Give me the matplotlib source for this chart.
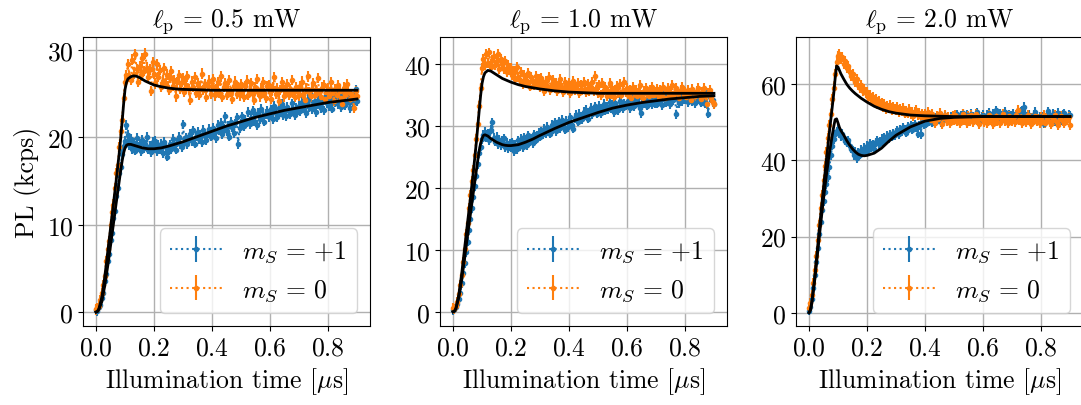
import numpy as np
import matplotlib
matplotlib.use("Agg")
import matplotlib.pyplot as plt

# =========================================================
# DATA
# =========================================================
powers = [0.5, 1.0, 2.0]

# acquisition grid, 5 ns bins
t = np.round(np.arange(0, 0.9001, 0.005), 3)

# --- 0.5 mW ---
p05_ms0 = [
    0.3, 0.4, 0.7, 1.4, 2.2, 3.1, 4.1, 5.8, 7.2, 8.1, 10.0, 11.4, 12.3, 14.2, 15.9, 16.8, 18.9, 20.7, 22.0, 24.5,
    26.3, 27.1, 28.4, 27.0, 26.6, 28.9, 27.3, 29.5, 27.8, 26.4, 28.2, 27.1, 29.1, 27.6, 29.6, 28.0, 26.9, 27.8, 25.3, 28.6,
    27.3, 26.2, 28.4, 26.9, 27.7, 25.8, 26.5, 27.9, 26.1, 27.2, 25.4, 26.8, 27.6, 25.9, 26.6, 24.7, 26.3, 27.1, 25.6, 26.4,
    26.8, 25.2, 26.0, 27.0, 25.5, 24.3, 26.4, 25.8, 26.9, 25.1, 26.2, 24.9, 25.7, 27.3, 25.4, 26.1, 24.6, 25.9, 26.5, 25.0,
    25.9, 26.7, 24.8, 25.5, 26.3, 25.1, 27.0, 24.6, 25.8, 26.2, 24.9, 25.4, 26.6, 25.2, 24.4, 25.9, 26.4, 25.0, 25.7, 24.8,
    26.1, 25.3, 24.6, 25.9, 26.5, 24.9, 25.4, 26.2, 25.0, 24.3, 25.8, 26.7, 25.2, 24.7, 25.6, 26.3, 25.1, 24.5, 25.9, 26.0,
    25.2, 24.4, 25.7, 26.9, 25.0, 25.6, 24.2, 25.4, 26.3, 25.8, 24.7, 25.3, 26.1, 24.9, 25.5, 26.6, 25.1, 24.6, 25.8, 25.2,
    24.8, 25.9, 26.4, 25.0, 24.3, 25.6, 27.0, 25.2, 24.7, 25.5, 26.2, 24.9, 25.4, 26.8, 25.1, 24.6, 25.7, 26.0, 24.4, 25.3,
    25.6, 24.7, 26.3, 25.1, 24.2, 25.5, 24.8, 26.0, 25.3, 24.5, 23.8, 25.7, 24.9, 26.1, 25.2, 24.4, 25.0, 24.6, 23.4, 25.3,
    24.7,
]
p05_ms1 = [
    0.2, 0.1, 0.6, 0.8, 1.6, 2.2, 3.5, 4.3, 5.8, 6.6, 8.2, 9.1, 10.8, 11.6, 13.3, 14.2, 15.9, 16.6, 18.1, 19.0,
    19.6, 21.4, 20.3, 19.1, 19.8, 18.7, 19.4, 18.5, 19.9, 18.9, 19.3, 18.4, 19.7, 18.8, 19.2, 20.1, 18.6, 19.0, 18.3, 19.5,
    18.8, 19.6, 18.4, 19.1, 18.6, 19.3, 18.2, 19.5, 18.9, 17.8, 18.5, 19.2, 18.7, 19.8, 19.0, 18.6, 19.4, 20.1, 19.2, 18.9,
    21.5, 19.4, 20.0, 19.2, 19.9, 20.4, 19.6, 20.8, 19.3, 20.1, 20.6, 19.8, 20.3, 19.5, 20.9, 20.2, 19.7, 20.5, 21.0, 20.1,
    20.3, 21.1, 20.6, 19.9, 21.4, 20.8, 21.7, 20.4, 21.0, 22.4, 20.7, 21.3, 20.1, 21.8, 21.2, 20.5, 21.6, 22.3, 19.2, 21.1,
    21.6, 22.4, 21.3, 22.0, 21.7, 22.9, 21.5, 22.2, 23.1, 21.9, 22.6, 21.4, 22.8, 22.1, 23.3, 22.5, 21.8, 22.7, 23.0, 22.3,
    22.5, 23.2, 22.1, 23.6, 22.8, 22.3, 23.4, 22.9, 23.8, 22.6, 23.1, 22.4, 23.5, 23.0, 22.7, 23.9, 23.2, 22.6, 23.4, 23.1,
    23.6, 23.0, 24.1, 23.3, 23.9, 22.8, 24.4, 23.5, 24.8, 23.2, 23.7, 24.2, 22.9, 23.8, 24.5, 23.4, 24.0, 23.1, 24.6, 23.9,
    24.2, 23.6, 24.7, 23.3, 24.5, 24.0, 25.1, 23.8, 24.4, 23.5, 24.9, 24.1, 23.7, 25.2, 24.3, 23.4, 24.8, 23.9, 24.6, 25.5,
    24.2,
]

# --- 1.0 mW ---
p10_ms0 = [
    0.6, 0.5, 0.9, 1.6, 2.9, 4.3, 6.0, 8.1, 10.2, 12.6, 14.3, 16.8, 18.9, 21.1, 22.9, 25.3, 27.9, 30.4, 33.2, 36.1,
    39.4, 40.8, 39.9, 41.6, 40.2, 41.9, 39.6, 40.7, 41.3, 39.8, 40.5, 41.7, 39.3, 40.9, 40.1, 39.2, 40.6, 38.8, 39.9, 39.1,
    39.4, 38.2, 38.9, 37.6, 39.6, 38.0, 37.4, 38.7, 36.8, 38.3, 37.5, 37.0, 38.6, 36.4, 37.9, 37.2, 36.7, 38.1, 36.9, 37.6,
    36.3, 37.8, 36.9, 35.7, 37.3, 36.5, 37.9, 35.9, 36.8, 37.4, 36.1, 37.0, 35.6, 36.7, 37.6, 36.2, 35.5, 37.1, 36.4, 35.8,
    36.9, 35.4, 36.5, 37.3, 35.8, 36.2, 37.0, 35.3, 36.7, 35.9, 37.2, 36.0, 35.5, 36.8, 35.7, 36.4, 37.1, 35.6, 38.1, 36.3,
    35.4, 36.6, 35.1, 37.0, 35.8, 36.3, 34.9, 35.6, 36.9, 35.2, 36.1, 34.7, 35.9, 36.5, 35.3, 36.8, 35.0, 35.7, 37.2, 35.5,
    36.2, 35.0, 35.8, 34.6, 36.4, 35.3, 35.9, 34.8, 35.5, 36.6, 35.1, 34.5, 35.7, 36.1, 35.2, 34.9, 35.8, 36.3, 35.0, 35.6,
    35.3, 36.0, 34.7, 35.9, 35.1, 36.4, 34.5, 35.6, 36.2, 35.0, 35.4, 36.7, 34.8, 35.5, 36.1, 35.2, 34.6, 35.8, 36.3, 35.1,
    35.6, 34.7, 35.9, 35.2, 34.3, 36.0, 35.4, 34.8, 35.7, 36.2, 35.0, 34.4, 35.5, 36.1, 34.9, 33.6, 35.3, 35.8, 34.6, 33.9,
    33.5,
]
p10_ms1 = [
    0.3, 0.4, 0.7, 1.2, 2.0, 3.1, 4.6, 6.2, 7.9, 9.6, 11.3, 13.2, 15.0, 16.7, 18.6, 20.3, 22.0, 23.9, 25.6, 26.7,
    27.9, 28.6, 29.1, 28.2, 28.8, 27.7, 29.4, 30.6, 28.1, 27.5, 28.3, 27.1, 27.8, 26.9, 27.6, 28.0, 26.6, 27.3, 26.4, 27.2,
    26.5, 27.4, 25.9, 27.0, 26.3, 27.7, 26.8, 27.9, 26.6, 28.2, 27.3, 26.9, 28.5, 27.6, 28.0, 27.2, 28.7, 27.8, 28.4, 28.9,
    28.3, 29.1, 28.7, 29.6, 28.9, 29.9, 29.3, 28.8, 30.2, 29.5, 30.6, 29.2, 30.0, 30.8, 29.7, 31.0, 30.3, 29.4, 30.9, 29.8,
    30.9, 31.4, 30.2, 29.6, 31.3, 31.8, 30.7, 32.0, 31.5, 31.1, 32.3, 31.7, 32.6, 31.2, 32.1, 33.0, 31.9, 32.4, 33.2, 32.0,
    32.6, 33.3, 32.1, 32.9, 33.6, 32.5, 33.1, 32.7, 33.9, 32.8, 33.4, 32.3, 33.7, 33.0, 32.6, 34.0, 33.2, 32.9, 33.6, 33.3,
    33.5, 34.1, 32.9, 33.8, 34.3, 33.2, 33.7, 34.5, 33.4, 33.0, 32.1, 34.2, 33.6, 34.0, 33.3, 34.6, 33.9, 33.5, 34.3, 33.7,
    34.2, 33.6, 34.7, 34.0, 33.4, 35.0, 34.3, 33.8, 34.9, 34.1, 33.5, 34.6, 34.2, 35.2, 31.9, 34.4, 33.7, 34.8, 34.0, 35.3,
    34.3, 35.1, 33.9, 34.6, 35.4, 34.0, 34.8, 33.7, 35.2, 34.4, 34.9, 33.8, 35.0, 34.5, 33.6, 35.3, 32.0, 34.7, 35.1, 34.2,
    33.6,
]

# --- 2.0 mW ---
p20_ms0 = [
    1.2, 2.5, 4.6, 7.8, 11.3, 15.0, 19.2, 23.1, 27.4, 30.8, 34.9, 38.6, 42.3, 45.9, 49.4, 52.3, 56.1, 59.0, 62.8, 65.9,
    67.3, 68.0, 66.6, 67.1, 65.4, 66.0, 64.3, 64.9, 63.1, 62.2, 62.8, 61.3, 60.6, 61.4, 59.7, 59.1, 59.8, 58.2, 58.7, 57.6,
    57.9, 56.6, 57.2, 56.0, 56.7, 55.3, 56.1, 54.8, 55.6, 54.5, 55.2, 54.0, 54.7, 53.5, 54.3, 53.8, 54.6, 53.2, 53.9, 53.4,
    53.1, 54.0, 52.6, 53.5, 52.9, 53.7, 52.3, 53.0, 52.5, 53.4, 52.1, 52.8, 51.6, 52.7, 53.2, 51.9, 52.4, 51.3, 52.2, 51.7,
    52.3, 51.0, 52.8, 51.5, 50.6, 52.1, 51.2, 49.8, 51.7, 50.9, 52.4, 51.3, 49.6, 51.0, 52.0, 50.4, 51.5, 49.9, 50.8, 51.6,
    50.7, 51.9, 50.2, 51.4, 49.7, 50.9, 52.2, 50.5, 51.1, 49.9, 51.6, 50.3, 51.8, 50.0, 51.2, 52.3, 50.6, 49.5, 51.0, 50.8,
    51.5, 50.1, 51.0, 49.8, 52.0, 50.6, 51.3, 49.6, 50.9, 51.7, 50.2, 51.4, 49.9, 50.7, 52.1, 50.4, 51.1, 49.7, 51.6, 50.8,
    50.3, 51.2, 50.0, 51.8, 53.3, 50.7, 51.4, 49.9, 50.8, 51.5, 50.1, 51.9, 50.5, 49.6, 51.1, 50.6, 51.7, 50.2, 51.0, 49.8,
    51.3, 50.4, 51.9, 49.7, 50.8, 51.5, 50.1, 49.5, 51.2, 50.6, 51.8, 50.0, 49.4, 50.9, 51.6, 50.3, 49.8, 51.1, 50.5, 51.4,
    49.3,
]
p20_ms1 = [
    0.5, 1.6, 3.5, 6.6, 9.8, 13.3, 17.0, 20.6, 23.8, 26.9, 29.3, 31.8, 33.7, 35.6, 38.2, 41.3, 43.9, 45.6, 46.8, 47.6,
    48.3, 47.1, 46.4, 47.0, 45.8, 45.2, 44.6, 45.3, 43.8, 43.1, 42.5, 41.3, 42.2, 40.6, 42.0, 41.5, 42.8, 42.1, 43.3, 42.6,
    43.9, 42.7, 44.5, 43.4, 44.1, 43.0, 44.8, 45.3, 44.2, 45.0, 45.7, 44.6, 46.1, 45.4, 46.5, 45.8, 46.9, 46.2, 47.1, 46.6,
    47.4, 47.9, 46.8, 48.2, 47.6, 48.7, 48.0, 47.3, 48.9, 48.4, 49.2, 48.1, 48.8, 49.5, 48.6, 47.0, 49.1, 46.8, 50.0, 49.4,
    50.2, 49.6, 50.8, 50.1, 51.0, 49.9, 50.6, 51.3, 50.4, 51.6, 50.7, 50.0, 51.4, 50.9, 51.8, 50.5, 51.1, 50.3, 51.5, 51.0,
    51.4, 50.8, 52.1, 51.0, 50.5, 51.7, 52.4, 51.2, 50.6, 51.9, 51.3, 50.9, 52.2, 51.5, 50.7, 51.8, 52.6, 51.1, 50.4, 51.6,
    52.0, 51.2, 50.7, 51.9, 52.5, 51.4, 50.9, 52.2, 51.6, 53.1, 51.3, 50.8, 52.4, 51.7, 51.0, 52.8, 51.5, 50.6, 52.1, 51.8,
    51.4, 52.2, 50.9, 51.7, 52.6, 51.1, 52.9, 53.0, 54.0, 52.3, 51.6, 50.8, 52.0, 51.3, 50.5, 51.9, 52.7, 51.0, 50.4, 51.5,
    50.2, 51.6, 49.6, 50.9, 51.8, 52.9, 51.2, 50.5, 52.3, 51.0, 50.3, 51.7, 52.5, 51.1, 50.6, 51.9, 52.4, 51.3, 50.8, 52.0,
    51.8,
]

# typical error bar (kcps) per power
err_ms0 = [0.6, 0.8, 1.3]
err_ms1 = [0.55, 0.75, 1.2]

# fitted model curves
fit_t = [0, 0.005, 0.01, 0.02, 0.03, 0.04, 0.05, 0.06, 0.07, 0.08,
         0.085, 0.09, 0.095, 0.10, 0.105, 0.11, 0.12, 0.13, 0.14, 0.15,
         0.16, 0.17, 0.18, 0.19, 0.2, 0.225, 0.25, 0.275, 0.3, 0.35,
         0.4, 0.45, 0.5, 0.55, 0.6, 0.65, 0.7, 0.75, 0.8, 0.85, 0.9]

fit05_ms0 = [0, 0.1, 0.4, 1.7, 4.0, 6.8, 9.6, 12.4, 15.2, 18.2,
             19.9, 21.8, 23.8, 25.5, 26.3, 26.7, 26.95, 27.05, 27.0, 26.85,
             26.65, 26.45, 26.3, 26.15, 26.0, 25.8, 25.65, 25.55, 25.5, 25.45,
             25.4, 25.4, 25.4, 25.4, 25.4, 25.4, 25.4, 25.4, 25.4, 25.4, 25.4]
fit05_ms1 = [0, 0.05, 0.3, 1.2, 3.0, 5.2, 7.6, 10.1, 12.6, 15.0,
             16.2, 17.3, 18.2, 18.8, 19.1, 19.2, 19.2, 19.1, 19.0, 18.9,
             18.8, 18.75, 18.7, 18.7, 18.7, 18.8, 19.0, 19.25, 19.5, 20.1,
             20.7, 21.3, 21.8, 22.3, 22.7, 23.1, 23.4, 23.7, 24.0, 24.2, 24.4]

fit10_ms0 = [0, 0.1, 0.6, 2.8, 6.2, 10.3, 14.4, 18.4, 22.6, 27.2,
             29.8, 32.4, 34.9, 36.9, 38.0, 38.6, 39.0, 38.9, 38.6, 38.3,
             38.0, 37.7, 37.5, 37.3, 37.1, 36.7, 36.4, 36.2, 36.0, 35.7,
             35.5, 35.4, 35.3, 35.3, 35.3, 35.3, 35.3, 35.3, 35.3, 35.3, 35.3]
fit10_ms1 = [0, 0.1, 0.5, 2.3, 5.2, 8.7, 12.3, 15.8, 19.3, 22.7,
             24.4, 26.0, 27.2, 28.0, 28.5, 28.6, 28.4, 28.0, 27.7, 27.4,
             27.2, 27.0, 26.9, 26.85, 26.85, 27.0, 27.4, 27.9, 28.5, 29.6,
             30.6, 31.4, 32.2, 32.9, 33.4, 33.8, 34.1, 34.4, 34.6, 34.8, 34.9]

fit20_ms0 = [0, 0.8, 3.0, 9.5, 17.5, 25.5, 33.0, 40.3, 47.3, 54.0,
             57.4, 61.5, 64.8, 64.5, 63.6, 62.7, 61.3, 60.0, 59.0, 58.2,
             57.5, 56.9, 56.3, 55.8, 55.3, 54.2, 53.4, 52.8, 52.4, 51.9,
             51.7, 51.6, 51.5, 51.5, 51.5, 51.5, 51.5, 51.5, 51.5, 51.5, 51.5]
fit20_ms1 = [0, 0.7, 2.7, 8.8, 16.0, 23.2, 30.0, 36.2, 41.8, 46.6,
             48.8, 50.7, 50.9, 49.8, 48.6, 47.8, 46.6, 45.2, 44.0, 43.0,
             42.2, 41.6, 41.3, 41.2, 41.3, 41.9, 43.2, 45.0, 46.6, 48.8,
             50.3, 51.0, 51.3, 51.4, 51.5, 51.5, 51.5, 51.5, 51.5, 51.5, 51.5]

data_ms0 = [p05_ms0, p10_ms0, p20_ms0]
data_ms1 = [p05_ms1, p10_ms1, p20_ms1]
fits_ms0 = [fit05_ms0, fit10_ms0, fit20_ms0]
fits_ms1 = [fit05_ms1, fit10_ms1, fit20_ms1]

# =========================================================
# PLOT SETTINGS
# =========================================================
plt.rcParams.update({
    "font.family": "serif",
    "font.serif": ["cmr10", "DejaVu Serif"],
    "mathtext.fontset": "cm",
    "axes.formatter.use_mathtext": True,
    "font.size": 18.5,
    "axes.titlesize": 18.5,
    "legend.fontsize": 18.5,
    "axes.unicode_minus": False,
    "grid.linewidth": 1.0,
})

W, H = 1081, 406
fig = plt.figure(figsize=(W / 100, H / 100), dpi=100)

lefts = [83, 440, 796]
ylims = [(-1.6, 31.5), (-2.3, 44.4), (-3.5, 72.4)]
bottom, top = 327, 38
ax_w = 287

for i, p in enumerate(powers):
    ax = fig.add_axes([lefts[i] / W, 1 - bottom / H, ax_w / W, (bottom - top) / H])

    ax.errorbar(t, data_ms1[i], yerr=err_ms1[i], fmt=".:", color="C0",
                label=r"$m_S\,=\,{+}1$", zorder=2)
    ax.errorbar(t, data_ms0[i], yerr=err_ms0[i], fmt=".:", color="C1",
                label=r"$m_S\,=\,0$", zorder=2)

    ax.plot(fit_t, fits_ms0[i], color="black", lw=2.0, zorder=3)
    ax.plot(fit_t, fits_ms1[i], color="black", lw=2.0, zorder=3)

    ax.set_xlim(-0.045, 0.945)
    ax.set_ylim(*ylims[i])
    ax.set_xticks([0.0, 0.2, 0.4, 0.6, 0.8])

    ax.set_title(r"$\ell_\mathrm{p}\,=\,%.1f$ mW" % p, pad=8)
    ax.set_xlabel(r"Illumination time [$\mu$s]")
    if i == 0:
        ax.set_ylabel("PL (kcps)")

    ax.grid(True)
    ax.set_axisbelow(True)
    ax.legend(loc="lower right")

fig.savefig("out.png", dpi=100)
